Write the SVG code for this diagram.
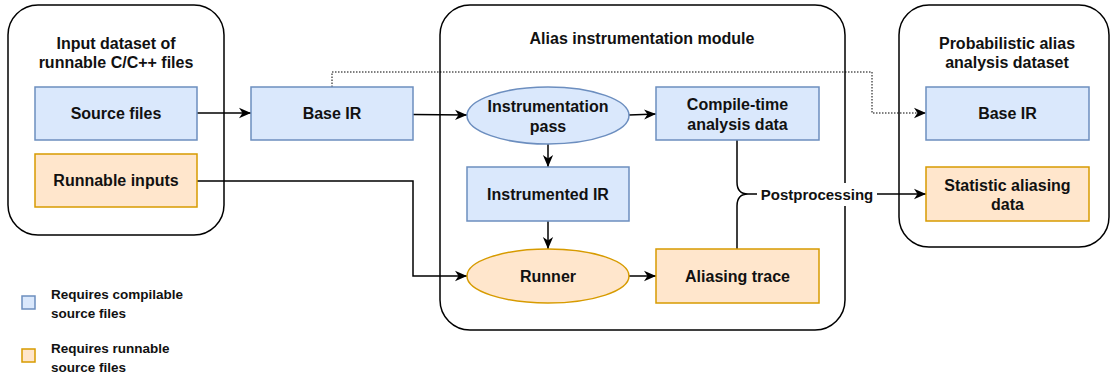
<svg xmlns="http://www.w3.org/2000/svg" width="1110" height="376" viewBox="0 0 1110 376">
<style>
text{font-family:"Liberation Sans",Arial,Helvetica,sans-serif;font-weight:bold;fill:#111;text-anchor:middle}
.t{font-size:16px}
.lg{font-size:13.5px;text-anchor:start}
.cont{fill:#fff;stroke:#000;stroke-width:1.5}
.blue{fill:#dae8fc;stroke:#6c8ebf;stroke-width:1.5}
.orange{fill:#ffe6cc;stroke:#d79b00;stroke-width:1.5}
.e{fill:none;stroke:#000;stroke-width:1.5}
.dot{fill:none;stroke:#000;stroke-width:1;stroke-dasharray:1.5 1.5}
</style>
<defs>
<marker id="arr" markerUnits="userSpaceOnUse" markerWidth="12" markerHeight="12" refX="11" refY="5.5" orient="auto" viewBox="0 0 11 11">
<path d="M0,0.8 L11,5.5 L0,10.2 L3.2,5.5 Z" fill="#000"/>
</marker>
</defs>

<g id="input-dataset">
<rect class="cont" x="8" y="5" width="216" height="230" rx="30"/>
<text class="t" x="116" y="49">Input dataset of</text>
<text class="t" x="116" y="68">runnable C/C++ files</text>
</g>
<g id="alias-module">
<rect class="cont" x="440" y="5" width="405" height="325" rx="30"/>
<text class="t" x="642" y="44">Alias instrumentation module</text>
</g>
<g id="prob-dataset">
<rect class="cont" x="899" y="5" width="210" height="242" rx="30"/>
<text class="t" x="1007" y="49">Probabilistic alias</text>
<text class="t" x="1007" y="68">analysis dataset</text>
</g>

<g id="connectors">
<line class="e" x1="197" y1="113" x2="251" y2="113" marker-end="url(#arr)"/>
<line class="e" x1="413" y1="114.5" x2="467" y2="115" marker-end="url(#arr)"/>
<line class="e" x1="629" y1="115" x2="656" y2="114" marker-end="url(#arr)"/>
<line class="e" x1="548" y1="144" x2="548" y2="167" marker-end="url(#arr)"/>
<line class="e" x1="548" y1="221" x2="548" y2="249" marker-end="url(#arr)"/>
<polyline class="e" points="197,181 413,181 413,276 467,276" marker-end="url(#arr)"/>
<line class="e" x1="629" y1="276" x2="656" y2="276" marker-end="url(#arr)"/>
<polyline class="dot" points="332,87 332,72 872,72 872,113 926,113" marker-end="url(#arr)"/>
<path class="e" d="M737,140 V182 C737,190 740,194 748,194 H757 M737,249 V206 C737,198 740,194 748,194"/>
<line class="e" x1="877" y1="194" x2="926" y2="194" marker-end="url(#arr)"/>
<rect x="757" y="183" width="120" height="23" fill="#fff"/>
<text x="817" y="200" style="font-size:15px">Postprocessing</text>
</g>

<g id="source-files">
<rect class="blue" x="35" y="87" width="162" height="53"/>
<text class="t" x="116" y="119">Source files</text>
</g>
<g id="runnable-inputs">
<rect class="orange" x="35" y="154" width="162" height="53"/>
<text class="t" x="116" y="186">Runnable inputs</text>
</g>
<g id="base-ir">
<rect class="blue" x="251" y="87" width="162" height="53"/>
<text class="t" x="332" y="119">Base IR</text>
</g>
<g id="instrumentation-pass">
<ellipse class="blue" cx="548" cy="115.5" rx="81" ry="28.5"/>
<text class="t" x="548" y="112">Instrumentation</text>
<text class="t" x="548" y="132">pass</text>
</g>
<g id="compile-time">
<rect class="blue" x="656" y="87" width="163" height="53"/>
<text class="t" x="737.5" y="109.5">Compile-time</text>
<text class="t" x="737.5" y="129.5">analysis data</text>
</g>
<g id="instrumented-ir">
<rect class="blue" x="467" y="167" width="162" height="54"/>
<text class="t" x="548" y="199.5">Instrumented IR</text>
</g>
<g id="runner">
<ellipse class="orange" cx="548" cy="276" rx="81" ry="27"/>
<text class="t" x="548" y="281.5">Runner</text>
</g>
<g id="aliasing-trace">
<rect class="orange" x="656" y="249" width="163" height="54"/>
<text class="t" x="737.5" y="281.5">Aliasing trace</text>
</g>
<g id="base-ir-out">
<rect class="blue" x="926" y="87" width="163" height="53"/>
<text class="t" x="1007.5" y="119">Base IR</text>
</g>
<g id="statistic-aliasing">
<rect class="orange" x="926" y="167" width="163" height="54"/>
<text class="t" x="1007.5" y="190.5">Statistic aliasing</text>
<text class="t" x="1007.5" y="210">data</text>
</g>

<g id="legend-compilable">
<rect class="blue" x="22" y="296" width="13" height="13"/>
<text class="lg" x="51" y="299">Requires compilable</text>
<text class="lg" x="51" y="318">source files</text>
</g>
<g id="legend-runnable">
<rect class="orange" x="22" y="349" width="13" height="13"/>
<text class="lg" x="51" y="353">Requires runnable</text>
<text class="lg" x="51" y="372">source files</text>
</g>
</svg>
